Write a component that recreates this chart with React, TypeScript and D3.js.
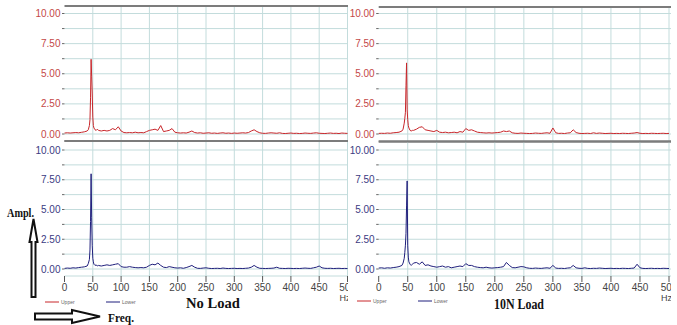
import * as d3 from "d3";

// frequency grid (Hz), denser around the 50 Hz line
const freqHz = [
  0, 5, 10, 15, 20, 25, 30, 35, 40,
  42, 44, 45, 46, 47, 48, 49, 50, 51, 52, 54, 56, 58,
  60, 65, 70, 75, 80, 85, 90, 95, 100, 105,
  110, 115, 120, 125, 130, 135, 140, 145, 150, 155,
  160, 165, 170, 175, 180, 185, 190, 195, 200, 205,
  210, 215, 220, 225, 230, 235, 240, 245, 250, 255,
  260, 265, 270, 275, 280, 285, 290, 295, 300, 305,
  310, 315, 320, 325, 330, 335, 340, 345, 350, 355,
  360, 365, 370, 375, 380, 385, 390, 395, 400, 405,
  410, 415, 420, 425, 430, 435, 440, 445, 450, 455,
  460, 465, 470, 475, 480, 485, 490, 495, 500,
];

const noLoadUpper = [
  0.08, 0.1, 0.08, 0.1, 0.12, 0.1, 0.14, 0.18, 0.25,
  0.35, 0.7, 1.2, 3.0, 6.2, 4.8, 3.4, 1.4, 0.7, 0.5, 0.35, 0.3, 0.4,
  0.3, 0.25, 0.3, 0.25, 0.3, 0.45, 0.35, 0.6, 0.25, 0.12,
  0.1, 0.12, 0.1, 0.15, 0.1, 0.12, 0.1, 0.2, 0.3, 0.35,
  0.4, 0.3, 0.7, 0.2, 0.25, 0.3, 0.45, 0.15, 0.1, 0.08,
  0.1, 0.08, 0.15, 0.25, 0.12, 0.08, 0.1, 0.06, 0.08, 0.1,
  0.06, 0.08, 0.05, 0.08, 0.1, 0.06, 0.08, 0.05, 0.08, 0.06,
  0.08, 0.1, 0.08, 0.12, 0.25, 0.35, 0.2, 0.1, 0.06, 0.05,
  0.08, 0.1, 0.08, 0.06, 0.1, 0.05, 0.04, 0.06, 0.08, 0.05,
  0.06, 0.04, 0.05, 0.08, 0.06, 0.05, 0.08, 0.1, 0.06, 0.05,
  0.04, 0.06, 0.08, 0.05, 0.06, 0.04, 0.08, 0.06, 0.05,
];

const noLoadLower = [
  0.05, 0.08, 0.06, 0.1, 0.08, 0.12, 0.15, 0.18, 0.25,
  0.45, 0.8, 1.6, 4.0, 8.0, 4.3, 2.0, 0.9, 0.6, 0.4, 0.3, 0.35, 0.25,
  0.3, 0.25, 0.3, 0.35, 0.3, 0.35, 0.4, 0.45, 0.2, 0.15,
  0.15, 0.2, 0.15, 0.12, 0.1, 0.12, 0.1, 0.15, 0.3, 0.4,
  0.35, 0.5, 0.3, 0.15, 0.12, 0.2, 0.15, 0.1, 0.08, 0.1,
  0.06, 0.12, 0.2, 0.3, 0.15, 0.06, 0.05, 0.08, 0.1, 0.06,
  0.04, 0.05, 0.06, 0.04, 0.08, 0.05, 0.04, 0.05, 0.06, 0.04,
  0.05, 0.04, 0.06, 0.08, 0.15, 0.3, 0.15, 0.06, 0.05, 0.04,
  0.05, 0.06, 0.08, 0.15, 0.06, 0.05, 0.04, 0.06, 0.05, 0.04,
  0.05, 0.04, 0.06, 0.08, 0.06, 0.05, 0.1, 0.15, 0.25, 0.1,
  0.06, 0.05, 0.06, 0.04, 0.05, 0.06, 0.04, 0.05, 0.04,
];

const load10NUpper = [
  0.05, 0.06, 0.05, 0.08, 0.06, 0.1, 0.12, 0.15, 0.25,
  0.4, 0.9, 1.3, 1.8, 4.0, 5.9, 2.0, 1.2, 0.7, 0.5, 0.3, 0.25, 0.3,
  0.3, 0.4, 0.55, 0.6, 0.35, 0.3, 0.25, 0.2, 0.3, 0.15,
  0.12, 0.15, 0.1, 0.12, 0.15, 0.1, 0.2, 0.15, 0.45, 0.3,
  0.35, 0.25, 0.15, 0.12, 0.1, 0.08, 0.1, 0.08, 0.1, 0.12,
  0.15, 0.25, 0.2, 0.25, 0.1, 0.06, 0.05, 0.08, 0.06, 0.05,
  0.04, 0.05, 0.08, 0.06, 0.05, 0.08, 0.1, 0.06, 0.5, 0.1,
  0.05, 0.06, 0.04, 0.08, 0.1, 0.35, 0.12, 0.06, 0.04, 0.05,
  0.06, 0.04, 0.1, 0.05, 0.08, 0.06, 0.04, 0.05, 0.06, 0.04,
  0.05, 0.04, 0.06, 0.05, 0.04, 0.06, 0.08, 0.12, 0.06, 0.04,
  0.05, 0.04, 0.06, 0.05, 0.04, 0.05, 0.06, 0.04, 0.05,
];

const load10NLower = [
  0.08, 0.1, 0.06, 0.1, 0.08, 0.12, 0.15, 0.2, 0.3,
  0.5, 0.9, 1.4, 2.0, 3.0, 5.3, 7.4, 2.0, 1.0, 0.6, 0.4, 0.3, 0.4,
  0.5, 0.55, 0.4, 0.6, 0.3, 0.35, 0.25, 0.2, 0.15, 0.2,
  0.25, 0.15, 0.2, 0.1, 0.15, 0.2, 0.25, 0.2, 0.45, 0.3,
  0.3, 0.2, 0.15, 0.12, 0.1, 0.15, 0.1, 0.08, 0.1, 0.12,
  0.15, 0.2, 0.55, 0.3, 0.12, 0.1, 0.15, 0.2, 0.18, 0.1,
  0.06, 0.05, 0.08, 0.06, 0.05, 0.08, 0.1, 0.06, 0.3, 0.08,
  0.05, 0.06, 0.04, 0.08, 0.1, 0.3, 0.1, 0.06, 0.05, 0.1,
  0.05, 0.04, 0.06, 0.05, 0.08, 0.06, 0.04, 0.05, 0.06, 0.04,
  0.05, 0.04, 0.06, 0.05, 0.04, 0.06, 0.08, 0.4, 0.1, 0.05,
  0.04, 0.05, 0.06, 0.04, 0.05, 0.04, 0.06, 0.05, 0.04,
];

const yLabelTicks = [0, 2.5, 5, 7.5, 10];
const yGridTicks = [0, 1.25, 2.5, 3.75, 5, 6.25, 7.5, 8.75, 10];
const xTicks = [0, 50, 100, 150, 200, 250, 300, 350, 400, 450, 500];

const RED = "#c8262a";
const BLUE = "#1f1f7c";
const RED_LABEL = "#c44848";
const BLUE_LABEL = "#3b3b82";
const GRID = "#c3dcdc";
const SANS = "'Liberation Sans Narrow', 'Liberation Sans', Arial, sans-serif";
const SERIF = "'Liberation Serif', 'Times New Roman', serif";

type PanelProps = {
  id: string;
  values: number[];
  color: string;
  labelColor: string;
  xRange: [number, number];
  yRange: [number, number];
  clipRight: number;
  topBar: number;
  bottomBar: number | null;
  xAxisY: number | null;
};

function Panel(p: PanelProps) {
  const x = d3.scaleLinear().domain([0, 500]).range(p.xRange);
  const y = d3.scaleLinear().domain([0, 10]).range(p.yRange);
  const pts = freqHz.map((f, i) => [f, p.values[i]] as [number, number]);
  const line = d3
    .line<[number, number]>()
    .x((d) => x(d[0]))
    .y((d) => y(d[1]));
  const left = p.xRange[0];
  const right = p.clipRight;
  return (
    <g>
      <defs>
        <clipPath id={p.id}>
          <rect x={0} y={0} width={right} height={325} />
        </clipPath>
      </defs>
      <g clipPath={`url(#${p.id})`}>
        {yGridTicks.map((t) => (
          <line key={"h" + t} x1={left} x2={right} y1={y(t)} y2={y(t)} stroke={GRID} strokeWidth={1} />
        ))}
        {xTicks.slice(1).map((t) => (
          <line
            key={"v" + t}
            x1={x(t)}
            x2={x(t)}
            y1={p.topBar}
            y2={p.xAxisY ?? p.bottomBar ?? y(0)}
            stroke={GRID}
            strokeWidth={1}
          />
        ))}
        <line x1={left} x2={right} y1={p.topBar} y2={p.topBar} stroke="#7c7c7c" strokeWidth={2.2} />
        {p.bottomBar !== null && (
          <line x1={left} x2={right} y1={p.bottomBar} y2={p.bottomBar} stroke="#7c7c7c" strokeWidth={2.2} />
        )}
        <path d={line(pts) ?? ""} fill="none" stroke={p.color} strokeWidth={1} strokeLinejoin="round" />
        {p.xAxisY !== null && (
          <g>
            <line x1={left} x2={right} y1={p.xAxisY} y2={p.xAxisY} stroke={GRID} strokeWidth={1} />
            {xTicks.map((t) => (
              <g key={"xt" + t}>
                <line x1={x(t)} x2={x(t)} y1={p.xAxisY!} y2={p.xAxisY! + 6} stroke="#555" strokeWidth={1} />
                <text
                  x={x(t)}
                  y={p.xAxisY! + 15}
                  textAnchor="middle"
                  fontFamily={SANS}
                  fontSize={10}
                  fill="#444"
                >
                  {t}
                </text>
              </g>
            ))}
            <text x={p.xRange[1] - 8} y={p.xAxisY + 25} fontFamily={SANS} fontSize={9} fill="#444">
              Hz
            </text>
          </g>
        )}
      </g>
      {yGridTicks.map((t) => (
        <line key={"yt" + t} x1={left - 2.5} x2={left} y1={y(t)} y2={y(t)} stroke="#666" strokeWidth={1} />
      ))}
      {yLabelTicks.map((t) => (
        <text
          key={"yl" + t}
          x={left - 4}
          y={y(t)}
          dy="0.35em"
          textAnchor="end"
          fontFamily={SANS}
          fontSize={10}
          fill={p.labelColor}
        >
          {t.toFixed(2)}
        </text>
      ))}
    </g>
  );
}

function Legend({ x0, y0 }: { x0: number; y0: number }) {
  return (
    <g fontFamily={SANS} fontSize={5} fill="#666">
      <line x1={x0} x2={x0 + 14} y1={y0} y2={y0} stroke={RED} strokeWidth={1} />
      <text x={x0 + 16} y={y0 + 2}>Upper</text>
      <line x1={x0 + 61} x2={x0 + 75} y1={y0} y2={y0} stroke={BLUE} strokeWidth={1} />
      <text x={x0 + 77} y={y0 + 2}>Lower</text>
    </g>
  );
}

export default function App() {
  const leftX: [number, number] = [64.5, 347.5];
  const rightX: [number, number] = [378.7, 669];
  const topY: [number, number] = [134, 13.5];
  const botY: [number, number] = [269, 150];
  return (
    <svg
      width={677}
      height={325}
      style={{ position: "absolute", left: 0, top: 0, background: "#fff" }}
    >
      <Panel id="c1" values={noLoadUpper} color={RED} labelColor={RED_LABEL} xRange={leftX} yRange={topY}
        clipRight={348} topBar={6} bottomBar={141} xAxisY={null} />
      <Panel id="c2" values={noLoadLower} color={BLUE} labelColor={BLUE_LABEL} xRange={leftX} yRange={botY}
        clipRight={348} topBar={141} bottomBar={null} xAxisY={276} />
      <Panel id="c3" values={load10NUpper} color={RED} labelColor={RED_LABEL} xRange={rightX} yRange={topY}
        clipRight={671} topBar={7} bottomBar={141.5} xAxisY={null} />
      <Panel id="c4" values={load10NLower} color={BLUE} labelColor={BLUE_LABEL} xRange={rightX} yRange={botY}
        clipRight={671} topBar={141.5} bottomBar={null} xAxisY={276} />

      <Legend x0={45} y0={302} />
      <Legend x0={357} y0={301} />

      <text x={213} y={308} textAnchor="middle" fontFamily={SERIF} fontWeight="bold" fontSize={15}
        textLength={54} lengthAdjust="spacingAndGlyphs" fill="#111">
        No Load
      </text>
      <text x={519} y={309} textAnchor="middle" fontFamily={SERIF} fontWeight="bold" fontSize={15}
        textLength={50} lengthAdjust="spacingAndGlyphs" fill="#111">
        10N Load
      </text>
      <text x={7} y={217} fontFamily={SERIF} fontWeight="bold" fontSize={13}
        textLength={27} lengthAdjust="spacingAndGlyphs" fill="#111">
        Ampl.
      </text>
      <text x={108} y={322} fontFamily={SERIF} fontWeight="bold" fontSize={13}
        textLength={26} lengthAdjust="spacingAndGlyphs" fill="#111">
        Freq.
      </text>

      {/* hollow arrows */}
      <polygon
        points="33.5,219 37.5,242 35.5,242 35.5,297 31.5,297 31.5,242 29.5,242"
        fill="#fff" stroke="#111" strokeWidth={2} strokeLinejoin="miter"
      />
      <polygon
        points="35,313.5 72,313.5 72,310 100,316.5 72,323 72,319.5 35,319.5"
        fill="#fff" stroke="#111" strokeWidth={2} strokeLinejoin="miter"
      />
    </svg>
  );
}
